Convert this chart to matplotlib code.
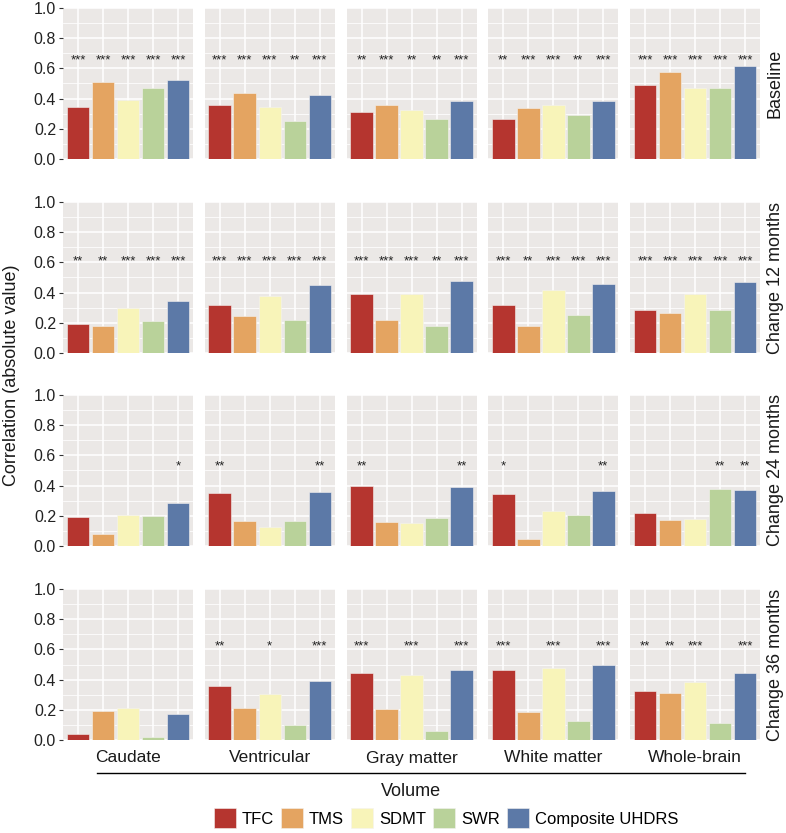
import matplotlib
matplotlib.use("Agg")
import matplotlib.pyplot as plt
from matplotlib.patches import Patch
from matplotlib.lines import Line2D
import numpy as np

plt.rcParams['font.family'] = ['Liberation Sans', 'DejaVu Sans']

regions = ["Caudate", "Ventricular", "Gray matter", "White matter", "Whole-brain"]
timepoints = ["Baseline", "Change 12 months", "Change 24 months", "Change 36 months"]
measures = ["TFC", "TMS", "SDMT", "SWR", "Composite UHDRS"]
colors = ["#B5352F", "#E4A461", "#F8F4B9", "#B9D29A", "#5C79A7"]

# values[timepoint][region] = [TFC, TMS, SDMT, SWR, Composite]
baseline = [
    [0.344, 0.512, 0.389, 0.468, 0.523],
    [0.358, 0.435, 0.347, 0.252, 0.422],
    [0.313, 0.360, 0.325, 0.267, 0.386],
    [0.267, 0.340, 0.355, 0.289, 0.382],
    [0.492, 0.578, 0.472, 0.468, 0.616],
]
change12 = [
    [0.194, 0.181, 0.300, 0.212, 0.342],
    [0.318, 0.245, 0.375, 0.216, 0.448],
    [0.393, 0.216, 0.389, 0.181, 0.477],
    [0.318, 0.179, 0.417, 0.254, 0.457],
    [0.285, 0.267, 0.393, 0.283, 0.472],
]
change24 = [
    [0.195, 0.080, 0.208, 0.199, 0.288],
    [0.350, 0.166, 0.126, 0.166, 0.356],
    [0.396, 0.159, 0.150, 0.188, 0.394],
    [0.343, 0.044, 0.235, 0.204, 0.365],
    [0.221, 0.173, 0.177, 0.378, 0.372],
]
change36 = [
    [0.042, 0.193, 0.211, 0.022, 0.173],
    [0.357, 0.213, 0.304, 0.102, 0.388],
    [0.443, 0.208, 0.432, 0.062, 0.463],
    [0.463, 0.184, 0.477, 0.129, 0.497],
    [0.324, 0.308, 0.384, 0.115, 0.441],
]
values = [baseline, change12, change24, change36]

stars_baseline = [
    ["***", "***", "***", "***", "***"],
    ["***", "***", "***", "**", "***"],
    ["**", "***", "**", "**", "***"],
    ["**", "***", "***", "**", "***"],
    ["***", "***", "***", "***", "***"],
]
stars_12 = [
    ["**", "**", "***", "***", "***"],
    ["***", "***", "***", "***", "***"],
    ["***", "***", "***", "**", "***"],
    ["***", "**", "***", "***", "***"],
    ["***", "***", "***", "***", "***"],
]
stars_24 = [
    ["", "", "", "", "*"],
    ["**", "", "", "", "**"],
    ["**", "", "", "", "**"],
    ["*", "", "", "", "**"],
    ["", "", "", "**", "**"],
]
stars_36 = [
    ["", "", "", "", ""],
    ["**", "", "*", "", "***"],
    ["***", "", "***", "", "***"],
    ["***", "", "***", "", "***"],
    ["**", "**", "***", "", "***"],
]
stars = [stars_baseline, stars_12, stars_24, stars_36]
star_y = [0.655, 0.605, 0.525, 0.62]

W, H = 786, 833
fig = plt.figure(figsize=(W / 100, H / 100), dpi=100)

left, right = 63, 760
pw = 130
gap = (right - left - 5 * pw) / 4
row_tops = [8, 202, 395, 589]
ph = 151
bg = "#EBE8E6"
x = np.arange(len(measures))

for r, tp in enumerate(timepoints):
    for c, reg in enumerate(regions):
        x0 = left + c * (pw + gap)
        ax = fig.add_axes([x0 / W, 1 - (row_tops[r] + ph) / H, pw / W, ph / H])
        ax.set_facecolor(bg)
        ax.set_xlim(-0.6, 4.6)
        ax.set_ylim(0, 1.0)
        ax.set_yticks(np.arange(0, 1.01, 0.2))
        ax.set_yticks(np.arange(0.1, 1.0, 0.2), minor=True)
        ax.set_xticks(x)
        ax.grid(which="major", color="white", lw=1.1)
        ax.grid(which="minor", axis="y", color="white", lw=0.55)
        ax.set_axisbelow(True)
        for s in ax.spines.values():
            s.set_visible(False)
        ax.bar(x, values[r][c], width=0.9, color=colors,
               edgecolor="#F4F2F0", linewidth=0.4, zorder=2)
        for i, st in enumerate(stars[r][c]):
            if st:
                ax.text(x[i], star_y[r], st, ha="center", va="center",
                        fontsize=9.5, color="#222222", zorder=3)
        ax.tick_params(axis="x", which="both", length=0, labelbottom=False)
        ax.tick_params(axis="y", which="minor", length=0)
        if c == 0:
            ax.tick_params(axis="y", which="major", length=3, width=0.8,
                           color="#333333", labelsize=11.5, labelcolor="#222222", pad=2)
            ax.set_yticklabels(["0.0", "0.2", "0.4", "0.6", "0.8", "1.0"])
        else:
            ax.tick_params(axis="y", which="major", length=0, labelleft=False)
    fig.text(775 / W, 1 - (row_tops[r] + ph / 2) / H, tp, rotation=90,
             ha="center", va="center", fontsize=13, color="#1a1a1a")

# Y-axis label
fig.text(12 / W, 1 - 375 / H, "Correlation (absolute value)", rotation=90,
         ha="center", va="center", fontsize=13, color="#1a1a1a")

# Region labels along the bottom
for c, reg in enumerate(regions):
    xc = left + c * (pw + gap) + pw / 2
    fig.text(xc / W, 1 - 758 / H, reg, ha="center", va="center",
             fontsize=12.5, color="#1a1a1a")

fig.add_artist(Line2D([97 / W, 745 / W], [1 - 773 / H, 1 - 773 / H],
                      color="black", lw=1.0, transform=fig.transFigure))
fig.text(411 / W, 1 - 791 / H, "Volume", ha="center", va="center",
         fontsize=13, color="#1a1a1a")

handles = [Patch(facecolor=col, edgecolor="#F4F2F0", lw=0.4) for col in colors]
fig.legend(handles, measures, loc="center", bbox_to_anchor=(446 / W, 1 - 818 / H),
           ncol=5, frameon=False, fontsize=12, handlelength=1.3, handleheight=1.4,
           handletextpad=0.35, columnspacing=0.45, borderaxespad=0)

fig.savefig("out.png", dpi=100)
